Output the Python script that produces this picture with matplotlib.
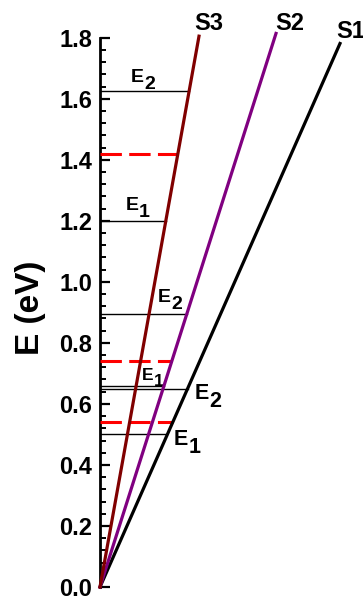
import matplotlib
matplotlib.use("Agg")
import matplotlib.pyplot as plt
from matplotlib.ticker import MultipleLocator, FormatStrFormatter

plt.rcParams["font.family"] = ["Liberation Sans", "DejaVu Sans"]
plt.rcParams["font.weight"] = "bold"

# subbands, their end points and the confined levels on each one
bands = ["S1", "S2", "S3"]
band_colors = ["black", "#800080", "#800000"]
k_end = [2.40, 1.76, 0.99]
e_end = [1.781, 1.814, 1.805]
e1 = [0.50, 0.66, 1.20]
e2 = [0.65, 0.895, 1.625]
e_mid = [0.54, 0.74, 1.42]  # dashed red levels

# label layout: (x, y baseline, font size)
e1_lbl = [(0.74, 0.465, 15.5), (0.42, 0.678, 12.5), (0.26, 1.235, 14)]
e2_lbl = [(0.95, 0.616, 15.5), (0.58, 0.935, 14), (0.31, 1.655, 14)]
band_lbl = [(2.367, 1.798), (1.75, 1.825), (0.94, 1.825)]


def level_label(ax, x, y, n, size):
    """E with a full size subscript digit, as in the original drawing"""
    ax.text(x, y, "E", fontsize=size, fontweight="bold",
            ha="left", va="baseline")
    ax.annotate(str(n), xy=(x, y), xycoords="data",
                xytext=(0.68 * size, -0.36 * size), textcoords="offset points",
                fontsize=size, fontweight="bold", ha="left", va="baseline")


fig = plt.figure(figsize=(3.63, 5.96), dpi=100)
ax = fig.add_axes([100 / 363, 9 / 596, 263 / 363, 549.3 / 596])

for i, name in enumerate(bands):
    slope = e_end[i] / k_end[i]
    # thin black levels first, band line on top
    for e in (e1[i], e2[i]):
        ax.plot([0, e / slope], [e, e], color="black", lw=1.0, zorder=2)
    ax.plot([0, e_mid[i] / slope], [e_mid[i], e_mid[i]], color="#ff0000",
            lw=2.2, linestyle=(0, (7, 2.4)), zorder=3)
    ax.plot([0, k_end[i]], [0, e_end[i]], color=band_colors[i], lw=2.3,
            clip_on=False, zorder=4)

    level_label(ax, e1_lbl[i][0], e1_lbl[i][1], 1, e1_lbl[i][2])
    level_label(ax, e2_lbl[i][0], e2_lbl[i][1], 2, e2_lbl[i][2])
    ax.text(band_lbl[i][0], band_lbl[i][1], name, fontsize=17,
            fontweight="bold", ha="left", va="baseline")

ax.set_xlim(0, 2.63)
ax.set_ylim(0, 1.8)

for side in ("top", "right", "bottom"):
    ax.spines[side].set_visible(False)
ax.spines["left"].set_linewidth(2.0)
ax.set_xticks([])

ax.yaxis.set_major_locator(MultipleLocator(0.2))
ax.yaxis.set_minor_locator(MultipleLocator(0.04))
ax.yaxis.set_major_formatter(FormatStrFormatter("%.1f"))
ax.tick_params(axis="y", which="major", direction="in", length=7, width=1.6,
               pad=5.5, labelsize=17)
ax.tick_params(axis="y", which="minor", direction="in", length=4, width=1.4)
for lab in ax.get_yticklabels():
    lab.set_fontweight("bold")

ax.set_ylabel("E (eV)", fontsize=24, fontweight="bold")
ax.yaxis.set_label_coords(-0.205, 0.509)

fig.savefig("out.png", dpi=100)
